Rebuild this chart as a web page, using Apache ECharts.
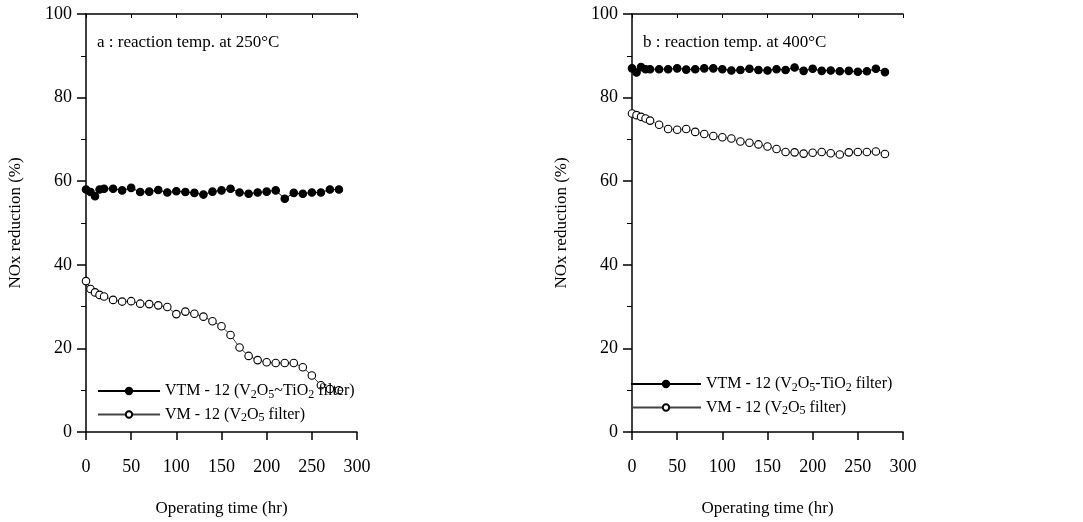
<!DOCTYPE html>
<html>
<head>
<meta charset="utf-8">
<script src="https://cdn.jsdelivr.net/npm/echarts@6/dist/echarts.min.js"></script>
<style>
  html, body { margin: 0; padding: 0; background: #fff; }
  #chart { width: 1083px; height: 522px; }
</style>
</head>
<body>
<div id="chart"></div>
<script>
"use strict";

// operating time (hr)
const hours = [0, 5, 10, 15, 20, 30, 40, 50, 60, 70, 80, 90, 100, 110, 120, 130, 140,
  150, 160, 170, 180, 190, 200, 210, 220, 230, 240, 250, 260, 270, 280];

// a : 250°C
const vtm250 = [58.0, 57.4, 56.4, 58.0, 58.2, 58.2, 57.8, 58.4, 57.4, 57.5, 57.9, 57.3, 57.6,
  57.4, 57.2, 56.8, 57.5, 57.8, 58.2, 57.3, 57.0, 57.3, 57.5, 57.8, 55.8, 57.2, 57.0, 57.3, 57.3, 58.0, 58.0];
const vm250 = [36.1, 34.2, 33.4, 32.8, 32.4, 31.6, 31.2, 31.3, 30.7, 30.6, 30.3, 29.9, 28.2,
  28.8, 28.3, 27.6, 26.5, 25.3, 23.2, 20.2, 18.2, 17.2, 16.7, 16.5, 16.5, 16.5, 15.5, 13.5, 11.2, 10.3, 10.0];

// b : 400°C
const vtm400 = [87.0, 86.0, 87.3, 86.8, 86.8, 86.8, 86.8, 87.0, 86.7, 86.8, 87.0, 87.0, 86.8,
  86.5, 86.6, 86.9, 86.6, 86.5, 86.8, 86.6, 87.2, 86.4, 86.9, 86.4, 86.5, 86.3, 86.4, 86.2, 86.3, 86.9, 86.1];
const vm400 = [76.2, 75.8, 75.4, 75.0, 74.5, 73.5, 72.5, 72.3, 72.5, 71.8, 71.3, 70.8, 70.5,
  70.2, 69.5, 69.2, 68.8, 68.3, 67.7, 67.0, 66.9, 66.6, 66.8, 67.0, 66.7, 66.4, 66.9, 67.0, 67.0, 67.1, 66.5];

const panelTitles = ["a : reaction temp. at 250°C", "b : reaction temp. at 400°C"];
const nameVtmA = "VTM - 12 (V2O5~TiO2 filter)";
const nameVtmB = "VTM - 12 (V2O5-TiO2 filter)";
const nameVm = "VM - 12 (V2O5 filter)";
const xTitle = "Operating time (hr)";
const yTitle = "NOx reduction (%)";

const FONT = "Liberation Serif";

function pairs(ys) {
  return hours.map((h, i) => [h, ys[i]]);
}

// V2O5 -> V{sub|2}O{sub|5}
function legendText(name) {
  return name.replace(/([VOi])([25])/g, "$1{sub|$2}");
}

const chart = echarts.init(document.getElementById("chart"), null, { renderer: "canvas" });

const grids = [
  { left: 86, right: 726, top: 14, bottom: 85 },
  { left: 632, right: 180, top: 14, bottom: 85 }
];

function bottomAxis(idx) {
  return {
    gridIndex: idx, type: "value", min: 0, max: 300, interval: 50, position: "bottom",
    name: xTitle, nameLocation: "middle", nameGap: 68,
    nameTextStyle: { fontFamily: FONT, fontSize: 17, color: "#000" },
    axisLine: { lineStyle: { color: "#000", width: 1.5 } },
    axisTick: { length: 8, lineStyle: { color: "#000", width: 1.5 } },
    axisLabel: { fontFamily: FONT, fontSize: 18, color: "#000", margin: 26 },
    splitLine: { show: false }
  };
}

function topAxis(idx) {
  return {
    gridIndex: idx, type: "value", min: 0, max: 300, interval: 50, position: "top",
    axisLine: { lineStyle: { color: "#000", width: 1.5 } },
    axisTick: { inside: true, length: 4, lineStyle: { color: "#000" } },
    axisLabel: { show: false },
    splitLine: { show: false }
  };
}

function leftAxis(idx) {
  return {
    gridIndex: idx, type: "value", min: 0, max: 100, interval: 20,
    name: yTitle, nameLocation: "middle", nameGap: 62, nameRotate: 90,
    nameTextStyle: { fontFamily: FONT, fontSize: 17, color: "#000" },
    axisLine: { show: true, lineStyle: { color: "#000", width: 1.5 } },
    axisTick: { length: 9, lineStyle: { color: "#000", width: 1.5 } },
    minorTick: { show: true, splitNumber: 2, length: 5, lineStyle: { color: "#000" } },
    axisLabel: { fontFamily: FONT, fontSize: 18, color: "#000", margin: 14 },
    splitLine: { show: false }
  };
}

function lineSeries(name, idx, ys, filled, lineColor) {
  return {
    name: name, type: "line", xAxisIndex: idx * 2, yAxisIndex: idx,
    data: pairs(ys),
    symbol: "circle", symbolSize: 7.5,
    itemStyle: { color: filled ? "#000" : "#fff", borderColor: "#000", borderWidth: 1.1 },
    lineStyle: { color: lineColor, width: 1 },
    emphasis: { disabled: true },
    z: filled ? 3 : 2
  };
}

const legendRich = {
  sub: { fontFamily: FONT, fontSize: 12, color: "#000", padding: [7, 0, 0, 0] }
};

function legendFor(names, left, top, w) {
  return {
    orient: "vertical", left: left, top: top, itemGap: 6, padding: 0,
    itemWidth: w, itemHeight: 8,
    data: names, selectedMode: false,
    formatter: legendText,
    textStyle: { fontFamily: FONT, fontSize: 16, color: "#000", rich: legendRich }
  };
}

chart.setOption({
  backgroundColor: "#fff",
  animation: false,
  title: [
    { text: panelTitles[0], left: 97, top: 34, padding: 0, textStyle: { fontFamily: FONT, fontSize: 17, fontWeight: "normal", color: "#000" } },
    { text: panelTitles[1], left: 643, top: 34, padding: 0, textStyle: { fontFamily: FONT, fontSize: 17, fontWeight: "normal", color: "#000" } }
  ],
  legend: [
    legendFor([nameVtmA, nameVm], 97, 383, 62),
    legendFor([nameVtmB, nameVm], 630, 376, 70)
  ],
  grid: grids,
  xAxis: [bottomAxis(0), topAxis(0), bottomAxis(1), topAxis(1)],
  yAxis: [leftAxis(0), leftAxis(1)],
  series: [
    lineSeries(nameVtmA, 0, vtm250, true, "#000"),
    lineSeries(nameVm, 0, vm250, false, "#444"),
    lineSeries(nameVtmB, 1, vtm400, true, "#000"),
    lineSeries(nameVm, 1, vm400, false, "#777")
  ]
});
</script>
</body>
</html>
